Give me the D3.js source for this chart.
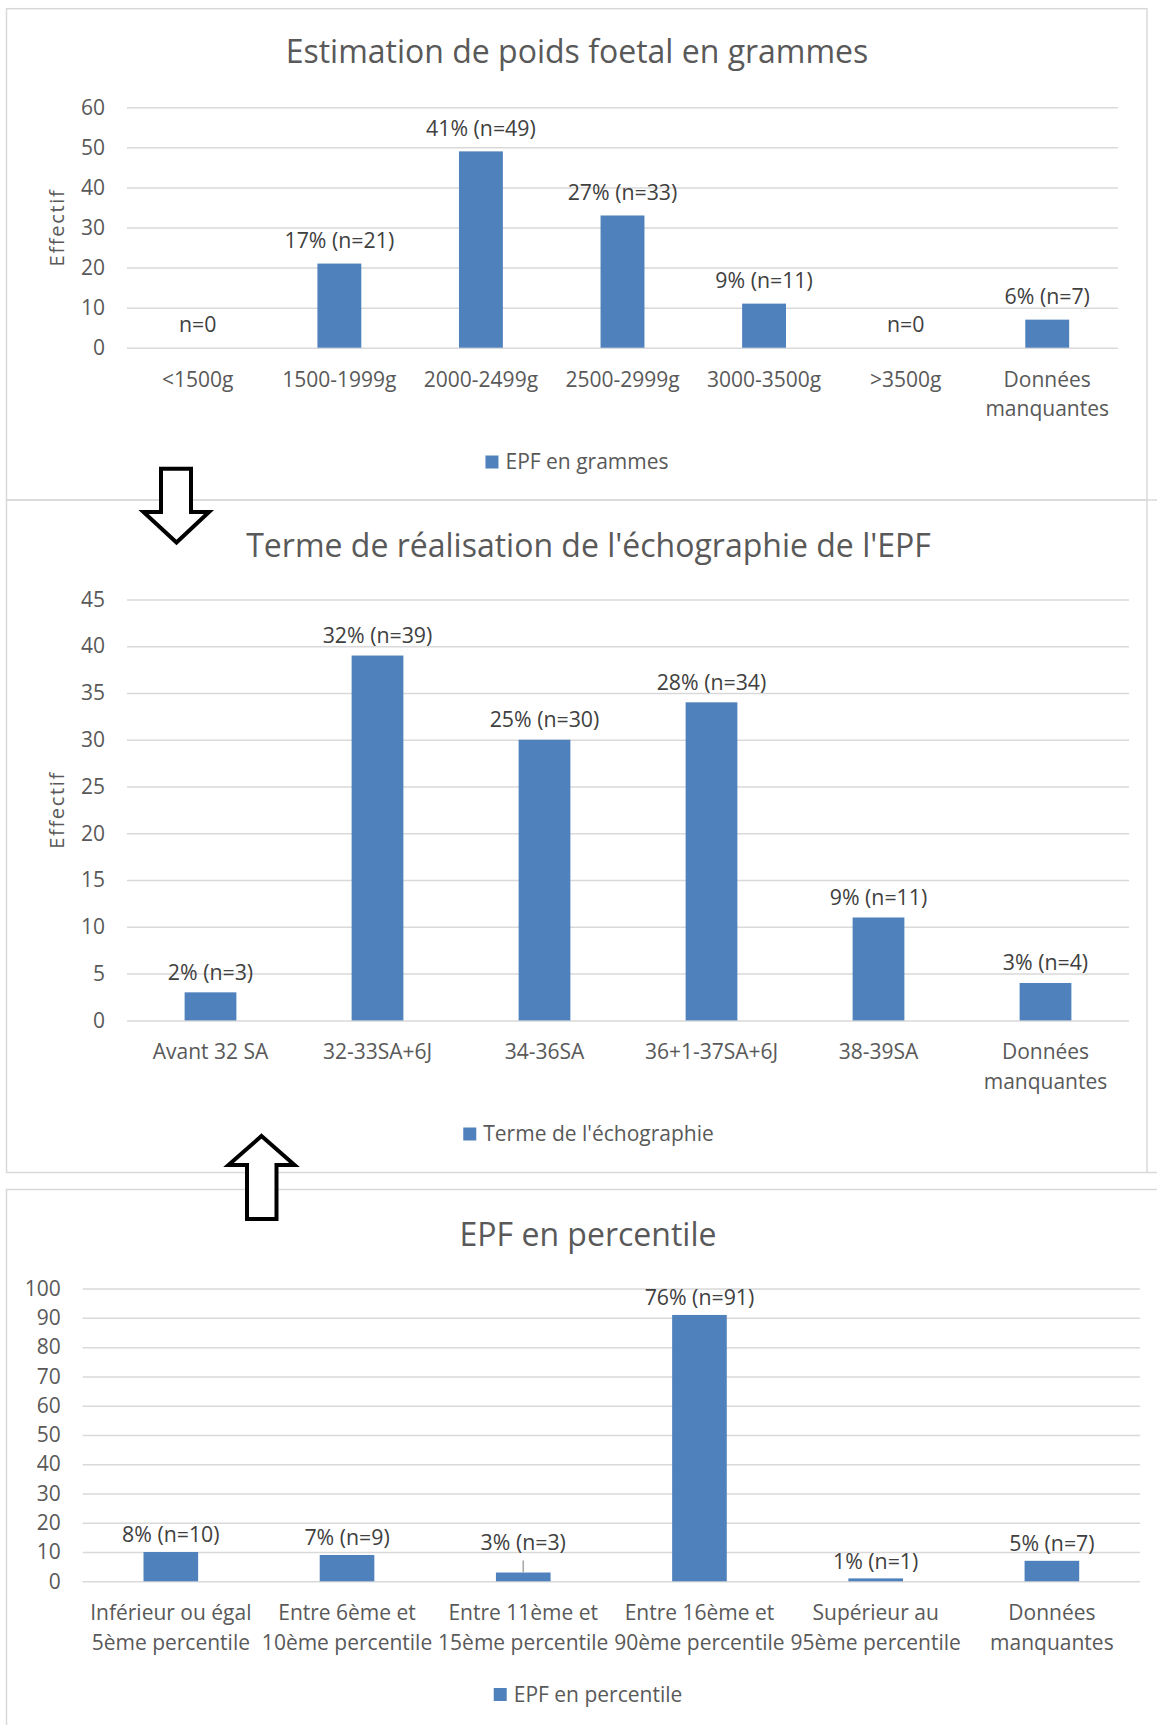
<!DOCTYPE html>
<html>
<head>
<meta charset="utf-8">
<script src="https://cdn.jsdelivr.net/npm/d3@7"></script>
<style>
  body { margin: 0; background: #fff; }
  svg text { font-family: 'Open Sans', sans-serif; }
</style>
</head>
<body>
<svg id="chart" width="1157" height="1725"></svg>
<script>
// données du graphique 1
const poidsCats = ['<1500g', '1500-1999g', '2000-2499g', '2500-2999g', '3000-3500g', '>3500g', 'Données\nmanquantes']
const poidsVals = [0, 21, 49, 33, 11, 0, 7]
const poidsLabels = ['n=0', '17% (n=21)', '41% (n=49)', '27% (n=33)', '9% (n=11)', 'n=0', '6% (n=7)']
const poidsTicks = [0, 10, 20, 30, 40, 50, 60]

// données du graphique 2
const termeCats = ['Avant 32 SA', '32-33SA+6J', '34-36SA', '36+1-37SA+6J', '38-39SA', 'Données\nmanquantes']
const termeVals = [3, 39, 30, 34, 11, 4]
const termeLabels = ['2% (n=3)', '32% (n=39)', '25% (n=30)', '28% (n=34)', '9% (n=11)', '3% (n=4)']
const termeTicks = [0, 5, 10, 15, 20, 25, 30, 35, 40, 45]

// données du graphique 3
const pctCats = ['Inférieur ou égal\n5ème percentile', 'Entre 6ème et\n10ème percentile', 'Entre 11ème et\n15ème percentile',
  'Entre 16ème et\n90ème percentile', 'Supérieur au\n95ème percentile', 'Données\nmanquantes']
const pctVals = [10, 9, 3, 91, 1, 7]
const pctLabels = ['8% (n=10)', '7% (n=9)', '3% (n=3)', '76% (n=91)', '1% (n=1)', '5% (n=7)']
const pctTicks = [0, 10, 20, 30, 40, 50, 60, 70, 80, 90, 100]

const svg = d3.select('#chart')
const BLUE = '#4f81bd'
const GRID = '#d9d9d9'
const TEXT = '#595959'

// cadres
function frame(x1, y1, x2, y2) {
  svg.append('rect')
    .attr('x', x1).attr('y', y1)
    .attr('width', x2 - x1).attr('height', y2 - y1)
    .style('fill', 'none')
    .style('stroke', GRID)
    .style('stroke-width', 1.5)
}
frame(6.5, 8.7, 1147, 500)
frame(6.5, 500, 1147, 1172.5)
frame(6.5, 1189.5, 1175, 1740)
svg.append('line').attr('x1', 1147).attr('x2', 1157).attr('y1', 500).attr('y2', 500)
  .style('stroke', GRID).style('stroke-width', 1.5)
svg.append('line').attr('x1', 1147).attr('x2', 1157).attr('y1', 1172.5).attr('y2', 1172.5)
  .style('stroke', GRID).style('stroke-width', 1.5)

function drawChart(cfg) {
  const g = svg.append('g')

  const x = d3.scaleBand()
    .domain(cfg.cats)
    .range([cfg.left, cfg.right])
    .paddingInner(0.69)
    .paddingOuter(0.345)

  const y = d3.scaleLinear()
    .domain([0, cfg.max])
    .range([cfg.bottom, cfg.top])

  // titre
  g.append('text')
    .attr('x', cfg.titleX)
    .attr('y', cfg.titleY)
    .attr('text-anchor', 'middle')
    .attr('dy', '0.35em')
    .style('font-size', '32px')
    .style('fill', TEXT)
    .text(cfg.title)

  // axe y + grille
  const yaxis = d3.axisLeft(y)
    .tickValues(cfg.ticks)
    .tickSize(-(cfg.right - cfg.left))
    .tickPadding(22)

  const yaxisg = g.append('g')
    .attr('transform', `translate(${cfg.left}, 0)`)
    .call(yaxis)
  yaxisg.select('.domain').remove()
  yaxisg.selectAll('.tick line')
    .style('stroke', GRID)
    .style('stroke-width', 1.5)
  yaxisg.selectAll('.tick text')
    .style('font-size', '21px')
    .style('fill', TEXT)

  if (cfg.axisTitle) {
    g.append('text')
      .attr('transform', `translate(57, ${(cfg.top + cfg.bottom) / 2}) rotate(-90)`)
      .attr('text-anchor', 'middle')
      .attr('dy', '0.35em')
      .style('font-size', '20px')
      .style('letter-spacing', '1.7px')
      .style('fill', TEXT)
      .text(cfg.axisTitle)
  }

  // barres
  const data = cfg.cats.map((c, i) => ({ cat: c, v: cfg.vals[i], label: cfg.labels[i], i }))
  g.append('g').selectAll('rect')
    .data(data)
    .enter()
    .append('rect')
    .attr('x', d => x(d.cat))
    .attr('y', d => y(d.v))
    .attr('width', x.bandwidth())
    .attr('height', d => y(0) - y(d.v))
    .style('fill', BLUE)

  // étiquettes de données
  const lift = d => (cfg.leader && cfg.leader.index === d.i) ? cfg.leader.lift : cfg.labelLift
  g.append('g').selectAll('text')
    .data(data)
    .enter()
    .append('text')
    .attr('x', d => x(d.cat) + x.bandwidth() / 2)
    .attr('y', d => y(d.v) - lift(d))
    .attr('text-anchor', 'middle')
    .attr('dy', '0.35em')
    .style('font-size', '21.3px')
    .style('fill', '#404040')
    .text(d => d.label)

  if (cfg.leader) {
    const d = data[cfg.leader.index]
    g.append('line')
      .attr('x1', x(d.cat) + x.bandwidth() / 2)
      .attr('x2', x(d.cat) + x.bandwidth() / 2)
      .attr('y1', y(d.v) - 12)
      .attr('y2', y(d.v))
      .style('stroke', '#a6a6a6')
      .style('stroke-width', 1.5)
  }

  // libellés des catégories
  const xaxis = d3.axisBottom(x).tickSize(0).tickPadding(0)
  const xaxisg = g.append('g')
    .attr('transform', `translate(0, ${cfg.bottom})`)
    .call(xaxis)
  xaxisg.select('.domain').remove()
  xaxisg.selectAll('.tick text').each(function(d) {
    const t = d3.select(this)
    t.text(null)
      .attr('y', 0)
      .attr('dy', null)
      .style('font-size', '21px')
      .style('fill', TEXT)
    d.split('\n').forEach((line, k) => {
      t.append('tspan')
        .attr('x', 0)
        .attr('y', 31.5 + k * 29.5)
        .attr('dy', '0.35em')
        .text(line)
    })
  })

  // légende
  const leg = g.append('g')
  const legText = leg.append('text')
    .attr('y', cfg.legendY)
    .attr('dy', '0.35em')
    .style('font-size', '21px')
    .style('fill', TEXT)
    .text(cfg.legend)
  const w = legText.node().getComputedTextLength()
  const x0 = cfg.titleX - (w + 20) / 2
  leg.append('rect')
    .attr('x', x0)
    .attr('y', cfg.legendY - 6.5)
    .attr('width', 13)
    .attr('height', 13)
    .style('fill', BLUE)
  legText.attr('x', x0 + 20)
}

drawChart({
  cats: poidsCats, vals: poidsVals, labels: poidsLabels, ticks: poidsTicks, max: 60,
  left: 127, right: 1118, top: 107.3, bottom: 347.7,
  title: 'Estimation de poids foetal en grammes', titleX: 577, titleY: 51.7,
  axisTitle: 'Effectif', labelLift: 23,
  legend: 'EPF en grammes', legendY: 462
})

drawChart({
  cats: termeCats, vals: termeVals, labels: termeLabels, ticks: termeTicks, max: 45,
  left: 127, right: 1129, top: 599.4, bottom: 1020.4,
  title: "Terme de réalisation de l'échographie de l'EPF", titleX: 588.5, titleY: 545.5,
  axisTitle: 'Effectif', labelLift: 20,
  legend: "Terme de l'échographie", legendY: 1134
})

drawChart({
  cats: pctCats, vals: pctVals, labels: pctLabels, ticks: pctTicks, max: 100,
  left: 82.7, right: 1140, top: 1288.6, bottom: 1581.3,
  title: 'EPF en percentile', titleX: 588, titleY: 1234.5,
  labelLift: 17, leader: { index: 2, lift: 30 },
  legend: 'EPF en percentile', legendY: 1694.5
})

// flèches
const arrow = d3.line()
svg.append('path')
  .attr('d', arrow([[161, 468.7], [191, 468.7], [191, 512], [209, 512], [176.5, 542.5],
    [143.5, 512], [161, 512]]) + 'Z')
  .style('fill', '#fff')
  .style('stroke', '#000')
  .style('stroke-width', 4)
svg.append('path')
  .attr('d', arrow([[261.5, 1136], [294.5, 1165], [276.5, 1165], [276.5, 1219], [247, 1219],
    [247, 1165], [228.5, 1165]]) + 'Z')
  .style('fill', '#fff')
  .style('stroke', '#000')
  .style('stroke-width', 4)
</script>
</body>
</html>
